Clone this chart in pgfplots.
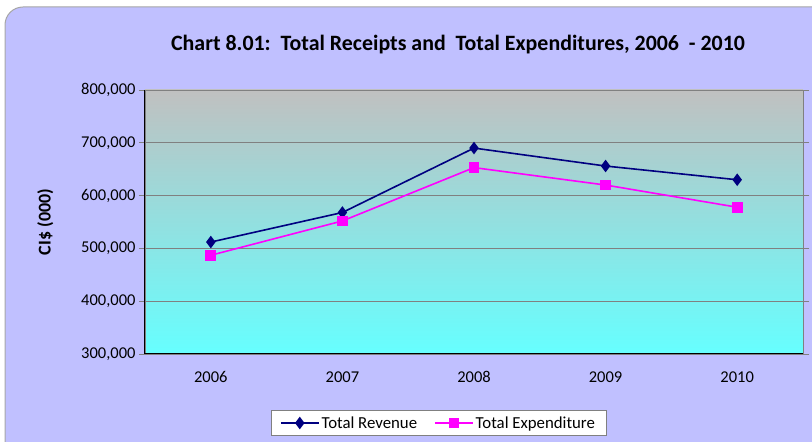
\documentclass[border=0pt]{standalone}
\usepackage{pgfplots}
\pgfplotsset{compat=1.18}
\usepackage{fontspec}
\setmainfont{Carlito}
\definecolor{bgl}{RGB}{192,192,255}
\definecolor{rev}{RGB}{0,0,128}
\definecolor{expc}{RGB}{255,0,255}
\definecolor{topc}{RGB}{192,192,192}
\definecolor{botc}{RGB}{102,255,255}
\begin{document}
\begin{tikzpicture}[x=1pt,y=1pt]
\useasboundingbox (0,0) rectangle (812,442);
\clip (0,0) rectangle (812,442);
\fill[bgl, draw=gray!70, line width=1pt, rounded corners=18pt] (5,-20) rectangle (840,435);
\node[font=\bfseries\fontsize{21.9}{25}\selectfont, anchor=center] at (458,397) {Chart 8.01:\ \ Total Receipts and\ \ Total Expenditures, 2006\ \ - 2010};
\begin{axis}[
  at={(145pt,88pt)}, anchor=south west,
  scale only axis, width=658pt, height=264pt,
  xmin=-0.5, xmax=4.5, ymin=300000, ymax=800000,
  xtick={0,1,2,3,4}, xticklabels={2006,2007,2008,2009,2010},
  ytick={300000,400000,500000,600000,700000,800000},
  /pgf/number format/assume math mode=true,
  yticklabel style={/pgf/number format/.cd, fixed, 1000 sep={,}},
  scaled y ticks=false,
  ymajorgrids, grid style={draw=gray, line width=0.8pt},
  major x tick style={draw=none},
  ytick style={draw=gray, line width=0.8pt},
  tick align=outside, major tick length=6pt,
  ticklabel style={font=\fontsize{16.5}{19}\selectfont},
  xticklabel style={yshift=-8pt},
  axis line style={draw=gray, line width=0.8pt},
  axis background/.style={shade, top color=topc, bottom color=botc},
  ylabel={CI\$ (000)}, ylabel style={font=\bfseries\fontsize{18}{21}\selectfont, yshift=21pt},
  legend style={at={(293.5pt,-69pt)}, anchor=center, legend columns=2, draw=gray, fill=white,
    font=\fontsize{16.8}{19}\selectfont, /tikz/every even column/.append style={column sep=15pt},
    inner xsep=9pt, inner ysep=4pt},
  legend image code/.code={\draw[mark repeat=2, mark phase=2, #1] plot coordinates {(0pt,0pt) (19pt,0pt) (38pt,0pt)};},
  legend cell align=left,
  clip=false,
]
\addplot[rev, line width=1.6pt, mark=diamond*, mark size=5pt, mark options={solid, fill=rev}] coordinates {(0,512000) (1,568000) (2,690000) (3,656000) (4,630000)};
\addlegendentry{Total Revenue}
\addplot[expc, line width=1.6pt, mark=square*, mark size=4.5pt, mark options={solid, fill=expc}] coordinates {(0,487000) (1,552000) (2,653000) (3,620000) (4,578000)};
\addlegendentry{Total Expenditure}
\draw[black, line width=1pt] (axis cs:-0.5,800000) -- (axis cs:-0.5,300000) -- (axis cs:4.5,300000);
\end{axis}
\end{tikzpicture}
\end{document}
